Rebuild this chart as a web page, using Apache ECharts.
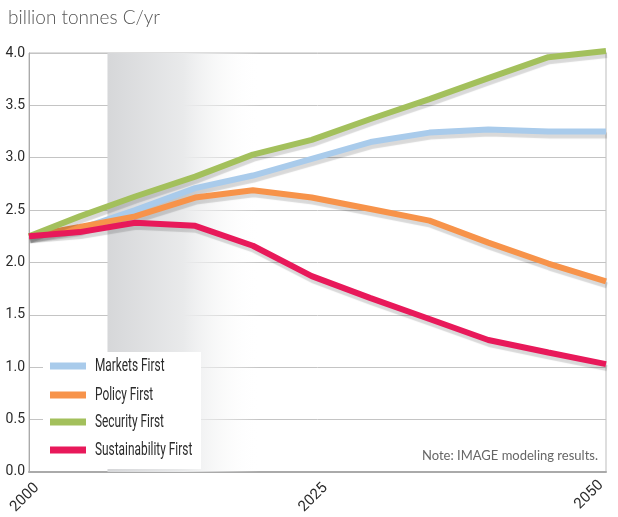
<!DOCTYPE html>
<html>
<head>
<meta charset="utf-8">
<script src="https://cdn.jsdelivr.net/npm/echarts@6/dist/echarts.min.js"></script>
<style>
  html, body { margin: 0; padding: 0; background: #fff; }
  #chart { width: 618px; height: 517px; }
</style>
</head>
<body>
<div id="chart"></div>
<script>
// ---- data ----
const years = [2000, 2004.4, 2009.2, 2014.4, 2019.4, 2024.5, 2029.6, 2034.7, 2039.8, 2045, 2050];
const seriesNames = ['Markets First', 'Policy First', 'Security First', 'Sustainability First'];
const marketsFirst = [2.25, 2.32, 2.50, 2.71, 2.83, 2.99, 3.15, 3.24, 3.27, 3.25, 3.25];
const policyFirst = [2.25, 2.34, 2.44, 2.62, 2.69, 2.62, 2.51, 2.40, 2.19, 1.99, 1.82];
const securityFirst = [2.25, 2.44, 2.63, 2.82, 3.03, 3.17, 3.37, 3.56, 3.76, 3.96, 4.02];
const sustainabilityFirst = [2.25, 2.29, 2.38, 2.35, 2.16, 1.87, 1.66, 1.46, 1.26, 1.14, 1.03];
const xTickYears = [2000, 2025, 2050];
const shadedPeriod = [2006.8, 2020];
const yAxisTitle = 'billion tonnes C/yr';
const noteText = 'Note: IMAGE modeling results.';

const colors = ['#a9cbeb', '#f7934a', '#a3c05c', '#e8195a'];
const allValues = [marketsFirst, policyFirst, securityFirst, sustainabilityFirst];

const labelFont = "Roboto, 'Noto Sans', sans-serif";
const chart = echarts.init(document.getElementById('chart'), null, { renderer: 'canvas' });

const series = seriesNames.map((name, i) => ({
  name: name,
  type: 'line',
  data: years.map((y, j) => [y, allValues[i][j]]),
  symbol: 'none',
  clip: false,
  z: 3 + i,
  lineStyle: {
    width: 6,
    color: colors[i],
    shadowColor: 'rgba(0,0,0,0.15)',
    shadowOffsetY: 4,
    shadowOffsetX: 1,
    shadowBlur: 1
  },
  itemStyle: { color: colors[i] },
  emphasis: { disabled: true }
}));

series[0].markArea = {
  silent: true,
  z: 1,
  itemStyle: {
    color: new echarts.graphic.LinearGradient(0, 0, 1, 0, [
      { offset: 0, color: '#d6d7d9' },
      { offset: 0.5, color: '#e9eaeb' },
      { offset: 1, color: 'rgba(255,255,255,0)' }
    ])
  },
  data: [[{ xAxis: shadedPeriod[0] }, { xAxis: shadedPeriod[1] }]]
};

// Legend box (condensed text), built from the series names and colours
const legendRowY = [14, 43, 70, 98];
const legendChildren = [
  { type: 'rect', z: 100, shape: { x: 0, y: 0, width: 158, height: 117 }, style: { fill: '#ffffff' } }
];
seriesNames.forEach((name, i) => {
  legendChildren.push({
    type: 'rect', z: 101,
    shape: { x: 7, y: legendRowY[i] - 3.5, width: 36, height: 7 },
    style: { fill: colors[i] }
  });
  legendChildren.push({
    type: 'text', z: 101,
    x: 52, y: legendRowY[i],
    scaleX: 0.66,
    style: {
      text: name, font: "18px " + labelFont, fill: '#2b2b2b',
      verticalAlign: 'middle', align: 'left'
    }
  });
});

const tickRich = {
  a: { fontFamily: labelFont, fontSize: 15, color: '#2b2b2b', padding: [22, 0, 0, 0] },
  b: { fontFamily: labelFont, fontSize: 15, color: '#2b2b2b', padding: [0, 7, 0, 0] }
};

chart.setOption({
  animation: false,
  backgroundColor: '#ffffff',
  grid: {
    left: 29, right: 12, top: 53, bottom: 39,
    show: true, borderColor: '#bdbdbd', borderWidth: 1,
    containLabel: false
  },
  xAxis: {
    type: 'value',
    min: 2000, max: 2050, interval: 25,
    axisLine: { show: true, lineStyle: { color: '#aaaaaa', width: 2 } },
    axisTick: { show: false },
    splitLine: { show: false },
    axisLabel: {
      rotate: 45, margin: 6,
      fontFamily: labelFont, fontSize: 15, color: '#2b2b2b',
      rich: tickRich,
      formatter: v => {
        if (!xTickYears.includes(v)) return '';
        return v === xTickYears[xTickYears.length - 1] ? '{b|' + v + '}' : '{a|' + v + '}';
      }
    }
  },
  yAxis: {
    type: 'value',
    min: 0, max: 4, interval: 0.5,
    axisLine: { show: true, lineStyle: { color: '#aaaaaa', width: 1 } },
    axisTick: { show: false },
    splitLine: { show: true, lineStyle: { color: '#c4c4c4', width: 1 } },
    axisLabel: {
      margin: 4,
      fontFamily: labelFont, fontSize: 14, color: '#2b2b2b',
      formatter: v => v.toFixed(1)
    }
  },
  graphic: [
    {
      type: 'text', left: 8, top: 8, silent: true,
      style: { text: yAxisTitle, font: "300 19px Lato, 'Open Sans', sans-serif", fill: '#555' }
    },
    {
      type: 'text', right: 20, top: 449, silent: true, z: 100,
      style: { text: noteText, font: "13px Lato, 'Open Sans', sans-serif", fill: '#666' }
    },
    {
      type: 'group', left: 43, top: 352, silent: true, z: 100,
      children: legendChildren
    }
  ],
  series: series
});
</script>
</body>
</html>
